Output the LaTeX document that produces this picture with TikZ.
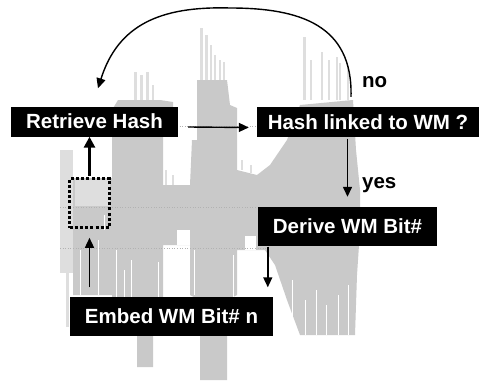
\documentclass[tikz,border=0pt]{standalone}
\usepackage{fontspec}
\setmainfont{Liberation Sans}
\usetikzlibrary{arrows.meta}
\begin{document}
\begin{tikzpicture}[x=1pt,y=-1pt,
  wbox/.style={fill=black, text=white, inner sep=0pt,
    font=\fontsize{20.5}{24}\selectfont\bfseries},
  lbl/.style={inner sep=0pt, font=\fontsize{20.5}{24}\selectfont\bfseries},
  winbox/.style={draw=black, line width=2.6pt, dash pattern=on 3pt off 2.2pt, inner sep=0pt},
  arr/.style={line width=1.4pt, -{Triangle[length=10pt,width=9pt]}},
  thickarr/.style={line width=3pt, -{Triangle[length=11pt,width=11pt]}},
  wave/.style={fill=black!21, draw=none},
  spike/.style={fill=black!13, draw=none},
  streak/.style={draw=white, line width=0.8pt},
  grid/.style={draw=black!30, line width=0.6pt, dotted}
]
\useasboundingbox (0,0) rectangle (480,383);
\fill[white] (0,0) rectangle (480,383);

% background waveform
\path[wave] (73,178) -- (112,178) -- (112,110) -- (118,100)
  -- (160,100) -- (173,102) -- (173,120) -- (163,120) -- (163,185) -- (190,185)
  -- (192,140) -- (197,140) -- (197,80) -- (227,80) -- (230,105) -- (237,108)
  -- (237,170) -- (257,175) -- (270,165) -- (287,140) -- (300,105) -- (353,100)
  -- (356,150) -- (360,190) -- (360,230) -- (357,275) -- (355,335) -- (300,335)
  -- (287,300) -- (275,265) -- (265,250) -- (237,250) -- (237,295) -- (227,300)
  -- (227,380) -- (200,380) -- (200,300) -- (190,295) -- (190,245) -- (163,245)
  -- (163,300) -- (153,300) -- (153,367) -- (137,367) -- (137,300) -- (112,300)
  -- (112,295) -- (73,295) -- cycle;
\path[spike] (60,150) rectangle (73,273);
\path[spike] (66,273) rectangle (69,327);
\path[spike] (75,180) rectangle (110,206);
\foreach \xa/\yt/\xb/\yb in {134/72/137/100, 140/75/143/100, 146/72/149/100, 152/85/154/100,
  200/28/203/80, 205/35/208/80, 210/45/212/80, 214/55/216/80, 219/60/221/80, 223/62/225/80,
  303/37/306/100, 310/60/312/100, 321/52/323/100, 328/60/330/100, 336/57/338/100,
  339/63/341/100, 347/67/349/100, 165/170/167/185, 172/175/174/185, 241/160/243/170,
  250/165/252/173}
  \path[spike] (\xa,\yt) rectangle (\xb,\yb);
\foreach \xs/\ya/\yb in {116/250/300, 124/270/300, 131/260/300, 158/262/300, 194/250/295,
  233/255/300, 292/280/335, 305/300/335, 316/290/335, 326/305/335, 338/295/335, 348/285/335,
  98/240/295, 80/250/295, 104/215/230}
  \draw[streak] (\xs,\ya) -- (\xs,\yb);
\fill[white] (177,230) rectangle (190,245);
\fill[white] (245,236) rectangle (256,250);
\draw[grid] (60,126) -- (360,126);
\draw[grid] (60,207) -- (360,207);
\draw[grid] (60,248) -- (270,248);

% boxes
\node[wbox, minimum width=167pt, minimum height=30pt] (ret) at (94.5,121.5) {Retrieve Hash};
\node[wbox, minimum width=222pt, minimum height=30pt] (hash) at (368,122) {Hash linked to WM ?};
\node[wbox, minimum width=179pt, minimum height=39pt] (der) at (347.5,226.5) {Derive WM Bit\#};
\node[wbox, minimum width=203pt, minimum height=39pt] (emb) at (171.5,316) {Embed WM Bit\# n};
\node[winbox, minimum width=40pt, minimum height=49pt] (win) at (89.5,203) {};

% labels
\node[lbl, anchor=base west] (no) at (362,87.5) {no};
\node[lbl, anchor=base west] (yes) at (362,188) {yes};

% connectors
\draw[arr] ([xshift=10pt,yshift=-5.5pt]ret.east) -- ([xshift=-8pt,yshift=-5.5pt]hash.west);
\coordinate (cs) at ([xshift=-17pt,yshift=10pt]hash.north);
\coordinate (ce) at ([xshift=3.5pt,yshift=18pt]ret.north);
\draw[arr] (cs) .. controls (353,25) and (300,8) .. (230,8)
  .. controls (160,6) and (118,25) .. (ce);
\draw[arr, shorten <=1.5pt, shorten >=10pt] (hash.south -| der.north) -- (der.north);
\coordinate (d1) at ([xshift=10pt]der.south west);
\draw[arr, shorten <=0.5pt, shorten >=9pt] (d1) -- (d1 |- emb.north);
\draw[arr, shorten <=9pt, shorten >=9pt] (win.south |- emb.north) -- (win.south);
\draw[thickarr, shorten <=1pt] (win.north) -- (win.north |- ret.south);
\end{tikzpicture}
\end{document}
